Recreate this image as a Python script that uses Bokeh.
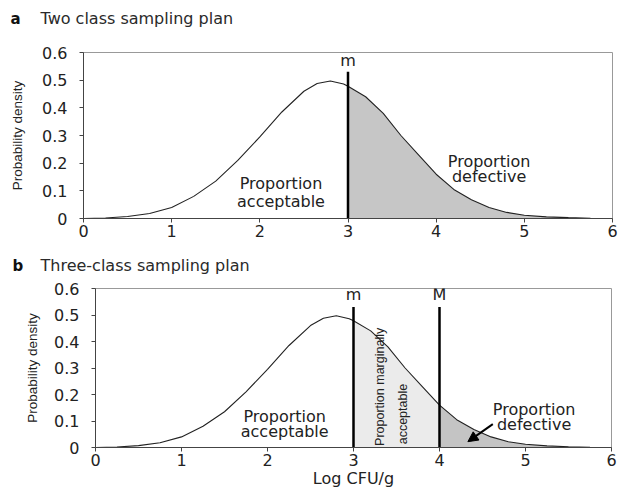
from bokeh.plotting import figure
from bokeh.models import Range1d, FixedTicker, CustomJSTickFormatter, Label, Arrow, NormalHead
from bokeh.core.properties import value
from bokeh.embed import file_html
from bokeh.resources import INLINE

# ---- data ----
log_cfu = [0.0, 0.25, 0.5, 0.75, 1.0, 1.25, 1.5, 1.75, 2.0, 2.25, 2.5, 2.65, 2.8, 2.95, 3.0,
           3.2, 3.4, 3.6, 3.8, 4.0, 4.2, 4.4, 4.6, 4.8, 5.0, 5.25, 5.5, 5.75, 6.0]
density = [0.0, 0.002, 0.007, 0.018, 0.04, 0.08, 0.135, 0.21, 0.295, 0.385, 0.46, 0.488, 0.497, 0.486, 0.478,
           0.44, 0.38, 0.30, 0.23, 0.16, 0.105, 0.068, 0.04, 0.022, 0.012, 0.006, 0.003, 0.001, 0.0]
x_ticks = [0, 1, 2, 3, 4, 5, 6]
y_ticks = [0, 0.1, 0.2, 0.3, 0.4, 0.5, 0.6]
limit_m = 3.0
limit_M = 4.0
limit_top = 0.53

FONT = "DejaVu Sans"
NARROW = "Liberation Sans"
W = 618


def subset(lo, hi):
    xs, ys = [], []
    for xv, yv in zip(log_cfu, density):
        if lo <= xv <= hi:
            xs.append(xv)
            ys.append(yv)
    return xs, ys


def title_fig(height, letter, text, y_px, x_letter, x_text):
    t = figure(width=W, height=height, output_backend="svg", toolbar_location=None,
               x_range=Range1d(0, W), y_range=Range1d(height, 0), title=None,
               min_border=0)
    t.axis.visible = False
    t.grid.visible = False
    t.outline_line_color = None
    t.text(x=[x_letter], y=[y_px], text=[letter], text_font=value(FONT), text_font_size="15px",
           text_font_style="bold", text_baseline="middle", text_align="left", text_color="#111111")
    t.text(x=[x_text], y=[y_px], text=[text], text_font=value(FONT), text_font_size="16px",
           text_baseline="middle", text_align="left", text_color="#2a2a2a")
    return t


def make_fig(height, left, right, top, bottom, xlabel, ylab_standoff):
    p = figure(width=W, height=height, output_backend="svg", toolbar_location=None,
               x_range=Range1d(0, 6), y_range=Range1d(0, 0.6), title=None,
               min_border_left=left, min_border_right=right,
               min_border_top=top, min_border_bottom=bottom)
    p.grid.visible = False
    p.outline_line_color = "#999999"
    p.outline_line_width = 1
    for ax in (p.xaxis[0], p.yaxis[0]):
        ax.axis_line_color = "#444444"
        ax.major_tick_line_color = "#444444"
        ax.minor_tick_line_color = None
        ax.major_tick_out = 4
        ax.major_tick_in = 0
        ax.major_label_text_font = FONT
        ax.major_label_text_font_size = "16px"
        ax.major_label_text_color = "#222222"
    p.xaxis.ticker = FixedTicker(ticks=x_ticks)
    p.yaxis.ticker = FixedTicker(ticks=y_ticks)
    p.yaxis.formatter = CustomJSTickFormatter(code="return tick == 0 ? '0' : tick.toFixed(1);")
    p.xaxis.major_label_standoff = 2
    p.yaxis.major_label_standoff = 12
    p.yaxis.axis_label = "Probability density"
    p.yaxis.axis_label_text_font = NARROW
    p.yaxis.axis_label_text_font_size = "13.5px"
    p.yaxis.axis_label_text_font_style = "normal"
    p.yaxis.axis_label_text_color = "#222222"
    p.yaxis.axis_label_standoff = ylab_standoff
    if xlabel:
        p.xaxis.axis_label = xlabel
        p.xaxis.axis_label_text_font = FONT
        p.xaxis.axis_label_text_font_size = "16px"
        p.xaxis.axis_label_text_font_style = "normal"
        p.xaxis.axis_label_text_color = "#222222"
        p.xaxis.axis_label_standoff = 0
    return p


def add_text(p, x, y, txt, align="center", size="16px", font=FONT, angle=0, baseline="middle"):
    p.add_layout(Label(x=x, y=y, text=txt, text_align=align, text_baseline=baseline,
                       text_font=font, text_font_size=size, angle=angle,
                       text_color="#222222"))


# ---------------- panel a ----------------
ta = title_fig(40, "a", "Two class sampling plan", 18, 10, 40)
pa = make_fig(205, 83, 6, 12, 27, None, 14)
sx, sy = subset(limit_m, 6)
pa.varea(x=sx, y1=[0] * len(sx), y2=sy, fill_color="#c6c6c6")
pa.line(log_cfu, density, line_color="#222222", line_width=1.1)
pa.segment(x0=[limit_m], y0=[0], x1=[limit_m], y1=[limit_top], line_color="black", line_width=2.5)
add_text(pa, limit_m, limit_top + 0.005, "m", baseline="bottom")
add_text(pa, 2.24, 0.125, "Proportion")
add_text(pa, 2.24, 0.063, "acceptable")
add_text(pa, 4.6, 0.207, "Proportion")
add_text(pa, 4.6, 0.152, "defective")

# ---------------- panel b ----------------
tb = title_fig(30, "b", "Three-class sampling plan", 20, 12, 40)
pb = make_fig(215, 95, 7, 13, 40, "Log CFU/g", 11)
lx, ly = subset(limit_m, limit_M)
pb.varea(x=lx, y1=[0] * len(lx), y2=ly, fill_color="#ebebeb")
dx, dy = subset(limit_M, 6)
pb.varea(x=dx, y1=[0] * len(dx), y2=dy, fill_color="#c4c4c4")
pb.line(log_cfu, density, line_color="#222222", line_width=1.1)
pb.segment(x0=[limit_m, limit_M], y0=[0, 0], x1=[limit_m, limit_M], y1=[limit_top, limit_top],
           line_color="black", line_width=2.5)
add_text(pb, limit_m, limit_top + 0.01, "m", baseline="bottom")
add_text(pb, limit_M, limit_top + 0.01, "M", baseline="bottom")
add_text(pb, 2.2, 0.117, "Proportion")
add_text(pb, 2.2, 0.060, "acceptable")
add_text(pb, 5.1, 0.142, "Proportion")
add_text(pb, 5.1, 0.086, "defective")
add_text(pb, 3.31, 0.006, "Proportion marginally", align="left", size="12.5px", font=NARROW, angle=1.5708)
add_text(pb, 3.57, 0.012, "acceptable", align="left", size="12.5px", font=NARROW, angle=1.5708)
pb.add_layout(Arrow(end=NormalHead(size=10, fill_color="black", line_color="black"),
                    x_start=4.62, y_start=0.088, x_end=4.33, y_end=0.022,
                    line_color="black", line_width=2))

open("out.html", "w").write(file_html([ta, pa, tb, pb], INLINE))
